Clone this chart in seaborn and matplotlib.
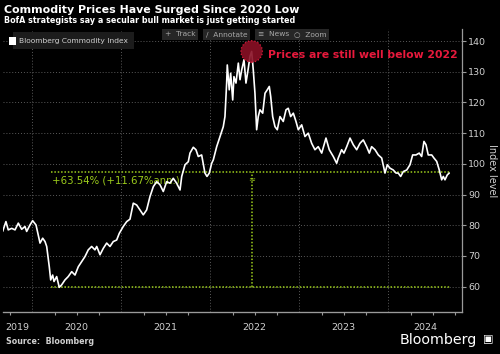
import numpy as np
import pandas as pd
import seaborn as sns
import matplotlib.pyplot as plt

# Bloomberg Commodity Index (decimal year, index level)
years_frac = [
    2019.667, 2019.704, 2019.730, 2019.769, 2019.806, 2019.843, 2019.881, 2019.918, 2019.937, 2019.974,
    2020.004, 2020.042, 2020.067, 2020.087, 2020.117, 2020.143, 2020.162, 2020.191, 2020.207, 2020.229,
    2020.244, 2020.274, 2020.303, 2020.330, 2020.367, 2020.404, 2020.443, 2020.480, 2020.517, 2020.555,
    2020.592, 2020.629, 2020.667, 2020.704, 2020.724, 2020.761, 2020.798, 2020.836, 2020.873, 2020.910,
    2020.948, 2020.978, 2021.022, 2021.061, 2021.098, 2021.135, 2021.173, 2021.210, 2021.247, 2021.285,
    2021.322, 2021.360, 2021.398, 2021.435, 2021.472, 2021.510, 2021.547, 2021.584, 2021.622, 2021.660,
    2021.679, 2021.716, 2021.753, 2021.772, 2021.809, 2021.839, 2021.865, 2021.903, 2021.940, 2021.963,
    2021.989, 2022.016, 2022.034, 2022.072, 2022.109, 2022.146, 2022.165, 2022.184, 2022.191, 2022.213,
    2022.229, 2022.252, 2022.266, 2022.289, 2022.315, 2022.334, 2022.353, 2022.379, 2022.401, 2022.427,
    2022.446, 2022.465, 2022.483, 2022.502, 2022.521, 2022.539, 2022.558, 2022.589, 2022.615, 2022.640,
    2022.663, 2022.679, 2022.701, 2022.727, 2022.753, 2022.783, 2022.820, 2022.851, 2022.876, 2022.903,
    2022.933, 2022.963, 2022.989, 2023.027, 2023.064, 2023.101, 2023.139, 2023.176, 2023.213, 2023.252,
    2023.300, 2023.337, 2023.382, 2023.420, 2023.438, 2023.476, 2023.502, 2023.533, 2023.570, 2023.607,
    2023.645, 2023.682, 2023.719, 2023.757, 2023.787, 2023.813, 2023.851, 2023.888, 2023.926, 2023.963,
    2023.989, 2024.019, 2024.056, 2024.087, 2024.112, 2024.139, 2024.169, 2024.207, 2024.244, 2024.274,
    2024.311, 2024.348, 2024.375, 2024.401, 2024.424, 2024.449, 2024.488, 2024.513, 2024.544, 2024.573,
    2024.600, 2024.618, 2024.637, 2024.663, 2024.685,
]
index_level = [
    78.0, 81.2, 78.5, 79.0, 78.5, 80.7, 78.7, 79.6, 78.0, 80.1,
    81.5, 80.1, 76.9, 74.2, 75.8, 74.7, 73.1, 66.5, 62.2, 63.8,
    61.7, 63.3, 59.8, 60.6, 62.2, 63.3, 64.9, 63.8, 66.5, 68.2,
    69.8, 72.0, 73.1, 72.0, 73.1, 70.4, 72.5, 74.2, 73.1, 74.7,
    75.2, 77.4, 79.6, 81.2, 82.0, 87.2, 86.6, 85.0, 83.4, 85.0,
    89.3, 92.6, 94.2, 93.2, 91.0, 94.2, 93.7, 95.3, 93.7, 91.5,
    95.9, 99.7, 100.7, 103.5, 105.4, 104.6, 102.4, 102.9, 97.0, 95.9,
    97.0, 100.2, 101.3, 105.6, 108.9, 112.1, 115.4, 126.3, 132.2, 124.1,
    129.5, 120.8, 128.4, 126.3, 132.8, 127.4, 130.6, 133.9, 126.3, 131.1,
    135.0, 136.6, 130.6, 123.0, 111.1, 115.4, 117.6, 116.5, 123.0, 124.1,
    125.2, 121.9, 115.4, 112.1, 111.1, 115.4, 113.8, 117.6, 118.1, 115.4,
    116.5, 113.8, 111.1, 112.7, 108.9, 110.0, 106.7, 104.6, 105.6, 103.5,
    108.4, 104.6, 102.4, 100.2, 101.9, 104.6, 103.5, 105.6, 108.4, 106.2,
    104.6, 106.7, 107.8, 105.6, 103.5, 105.6, 104.6, 102.9, 101.9, 97.0,
    99.7, 98.6, 98.0, 97.0, 97.0, 95.9, 97.5, 98.0, 99.7, 102.9,
    102.9, 103.5, 102.4, 107.3, 106.2, 102.9, 102.9, 101.9, 100.8, 98.0,
    94.8, 95.9, 94.8, 96.4, 97.0,
]

low_date, low_value = 2020.207, 59.8
end_date, end_value = 2024.69, 97.2
peak_date, peak_value = 2022.465, 136.6
gain_label = "+63.54% (+11.67%ann.)"

year_labels = ["2019", "2020", "2021", "2022", "2023", "2024"]
year_starts = [2019, 2020, 2021, 2022, 2023, 2024]
y_ticks = [60, 70, 80, 90, 100, 110, 120, 130, 140]

df = pd.DataFrame({"year": years_frac, "level": index_level})

sns.set_style("dark")
plt.rcParams["font.family"] = ["DejaVu Sans"]

BG = "black"
GRID = "#5a5a5a"
AXIS = "#9a9a9a"
TXT = "#d0d0d0"
GREEN = "#9ccc1c"
RED = "#e8193c"

fig = plt.figure(figsize=(5.0, 3.54), dpi=100, facecolor=BG)
ax = fig.add_axes([0.006, 0.1186, 0.9174, 0.7994], facecolor=BG)

xlim = (2019.671, 2024.825)
ylim = (51.76, 143.9)

# dotted grid
for y in y_ticks:
    ax.axhline(y, color=GRID, lw=0.7, ls=(0, (1, 2)), zorder=0)
for yr in year_starts[1:]:
    ax.axvline(yr, color=GRID, lw=0.7, ls=(0, (1, 2)), zorder=0)

# green return measurement
ax.hlines([end_value, low_value], low_date, end_date, color=GREEN, lw=1.1, ls=(0, (1, 1.2)), zorder=1)
ax.vlines(peak_date, low_value, end_value, color=GREEN, lw=1.1, ls=(0, (1, 1.2)), zorder=1)
ax.text(peak_date, end_value - 0.6, "\u2248", color=GREEN, fontsize=6, ha="center", va="top", zorder=1)
ax.text(low_date + 0.01, end_value - 1.1, gain_label, color=GREEN, fontsize=7.3, va="top", ha="left", zorder=1)

sns.lineplot(data=df, x="year", y="level", color="white", lw=1.2, ax=ax, zorder=3)

# red highlight
ax.scatter([peak_date], [peak_value], s=240, facecolor="#8a1025", edgecolor=RED,
           linewidth=0.9, linestyle=":", alpha=0.9, zorder=4)
ax.text(peak_date + 0.18, peak_value - 1.0, "Prices are still well below 2022", color=RED,
        fontsize=7.8, fontweight="bold", va="center", ha="left", zorder=5)

ax.set_xlim(*xlim)
ax.set_ylim(*ylim)
ax.set_xlabel("")

# right y axis
ax.yaxis.tick_right()
ax.set_yticks(y_ticks)
ax.tick_params(axis="y", colors=AXIS, labelcolor=TXT, labelsize=6.8, length=3, width=0.8, pad=1.5)
ax.yaxis.set_label_position("right")
ax.set_ylabel("Index level", color=TXT, fontsize=7, rotation=270, labelpad=8)

# x axis: long year separators, year labels centred on the visible part of each year
ax.set_xticks(year_starts[1:])
ax.set_xticklabels([])
ax.tick_params(axis="x", which="major", colors=AXIS, length=15, width=0.8, direction="out")
mids = [(max(s, xlim[0]) + min(s + 1, xlim[1])) / 2 for s in year_starts]
ax.set_xticks(mids, labels=year_labels, minor=True)
ax.tick_params(axis="x", which="minor", length=0, labelsize=6.8, labelcolor=TXT, pad=8)

quarters = [q for q in np.arange(2019.75, 2024.9, 0.25) if q % 1 != 0]
sec = ax.secondary_xaxis("bottom")
sec.set_xticks(quarters)
sec.set_xticklabels([])
sec.tick_params(colors=AXIS, length=2.5, width=0.8)
sec.spines["bottom"].set_color(AXIS)

for side in ["top", "left"]:
    ax.spines[side].set_visible(False)
for side in ["bottom", "right"]:
    ax.spines[side].set_visible(True)
    ax.spines[side].set_color(AXIS)
    ax.spines[side].set_linewidth(0.9)

# titles
fig.text(0.008, 0.972, "Commodity Prices Have Surged Since 2020 Low", color="white",
         fontsize=7.9, fontweight="bold", va="center", ha="left")
fig.text(0.008, 0.941, "BofA strategists say a secular bull market is just getting started", color="white",
         fontsize=5.8, fontweight="bold", va="center", ha="left")

# legend box + toolbar
fig.text(0.038, 0.885, "Bloomberg Commodity Index", color=TXT, fontsize=5.4, va="center", ha="left",
         bbox=dict(boxstyle="square,pad=0.75", facecolor="#1c1c1c", edgecolor="none"))
fig.patches.append(plt.Rectangle((0.017, 0.874), 0.014, 0.022, transform=fig.transFigure,
                                 facecolor="white", edgecolor="none", zorder=5))
for label, xpos in [("+  Track", 0.330), ("\u2215  Annotate", 0.412), ("\u2261  News", 0.516), ("\u25cb  Zoom", 0.588)]:
    fig.text(xpos, 0.903, label, color="#a8a8a8", fontsize=5.4, va="center", ha="left",
             bbox=dict(boxstyle="square,pad=0.35", facecolor="#262626", edgecolor="none"))

# footer
fig.text(0.012, 0.034, "Source:  Bloomberg", color=TXT, fontsize=5.7, fontweight="bold", va="center", ha="left")
fig.text(0.80, 0.04, "Bloomberg", color="white", fontsize=10.3, va="center", ha="left")
fig.text(0.965, 0.042, "\u25a3", color="white", fontsize=8, va="center", ha="left")

fig.savefig("out.png", dpi=100, facecolor=BG)
